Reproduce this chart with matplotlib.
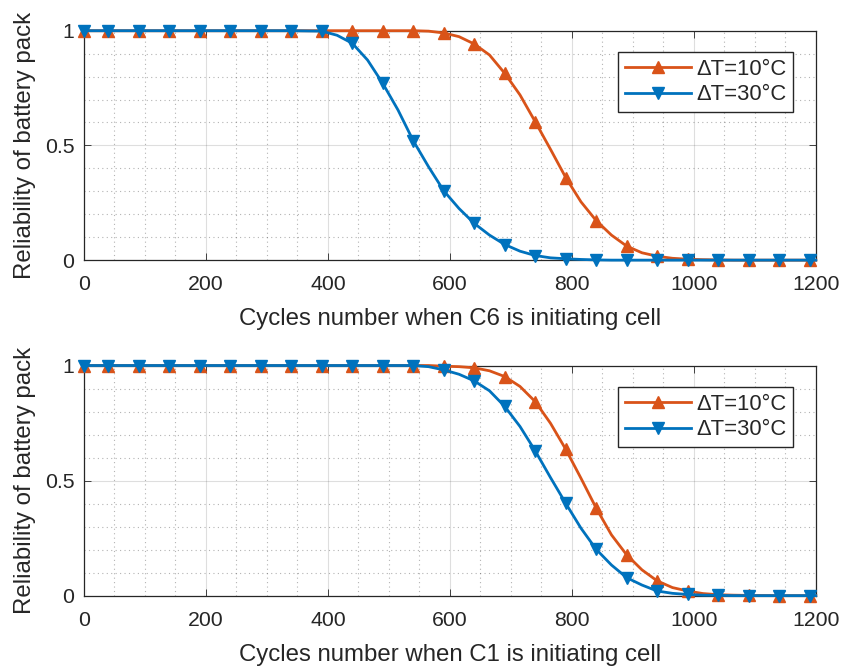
import numpy as np
import matplotlib
matplotlib.use("Agg")
import matplotlib.pyplot as plt
from matplotlib.ticker import MultipleLocator

plt.rcParams['font.family'] = ['Liberation Sans', 'DejaVu Sans']

cycles = [0, 40, 90, 140, 190, 240, 290, 340,
          390, 415, 440, 465, 490, 515, 540, 565, 590, 615, 640, 665,
          690, 715, 740, 765, 790, 815, 840, 865, 890, 915, 940, 965,
          990, 1015, 1040, 1065, 1090, 1140, 1190, 1200]

# cycles that carry a marker
marker_cycles = [0, 40, 90, 140, 190, 240, 290, 340, 390, 440, 490, 540,
                 590, 640, 690, 740, 790, 840, 890, 940, 990, 1040, 1090,
                 1140, 1190]

# C6 initiating cell (top)
c6_dt10 = [1, 1, 1, 1, 1, 1, 1, 1,
           1, 1, 1, 1, 1, 1, 1, 0.998, 0.99, 0.974, 0.942, 0.894,
           0.814, 0.72, 0.603, 0.483, 0.36, 0.254, 0.172, 0.109, 0.061, 0.032, 0.017, 0.008,
           0.004, 0.002, 0.001, 0, 0, 0, 0, 0]
c6_dt30 = [1, 1, 1, 1, 1, 1, 1, 1,
           0.998, 0.98, 0.945, 0.872, 0.77, 0.654, 0.52, 0.407, 0.302, 0.225, 0.16, 0.109,
           0.068, 0.039, 0.02, 0.01, 0.006, 0.003, 0.001, 0, 0, 0, 0, 0,
           0, 0, 0, 0, 0, 0, 0, 0]

# C1 initiating cell (bottom)
c1_dt10 = [1, 1, 1, 1, 1, 1, 1, 1,
           1, 1, 1, 1, 1, 1, 1, 1, 0.997, 0.995, 0.99, 0.977,
           0.952, 0.909, 0.843, 0.749, 0.636, 0.51, 0.38, 0.264, 0.177, 0.112, 0.064, 0.035,
           0.02, 0.009, 0.004, 0.002, 0.001, 0, 0, 0]
c1_dt30 = [1, 1, 1, 1, 1, 1, 1, 1,
           1, 1, 1, 1, 1, 1, 1, 0.995, 0.981, 0.962, 0.933, 0.89,
           0.822, 0.735, 0.629, 0.513, 0.401, 0.293, 0.201, 0.133, 0.078, 0.046, 0.02, 0.01,
           0.005, 0.002, 0.001, 0, 0, 0, 0, 0]

labels = ['\u0394T=10\u00b0C', '\u0394T=30\u00b0C']
xlabels = ['Cycles number when C6 is initiating cell',
           'Cycles number when C1 is initiating cell']
yticks = [0, 0.5, 1]
ytick_labels = ['0', '0.5', '1']

ORANGE = '#D95319'
BLUE = '#0072BD'
DARK = '#262626'
TICK_FS = 15.3
LABEL_FS = 17.3
LEG_FS = 15.8

mark_idx = [i for i, c in enumerate(cycles) if c in marker_cycles]


def style_axes(ax, xlabel):
    ax.set_xlim(0, 1200)
    ax.set_ylim(0, 1)
    ax.xaxis.set_major_locator(MultipleLocator(200))
    ax.xaxis.set_minor_locator(MultipleLocator(50))
    ax.set_yticks(yticks, ytick_labels)
    ax.yaxis.set_minor_locator(MultipleLocator(0.1))
    ax.grid(which='major', color=DARK, alpha=0.15, linewidth=0.8)
    ax.grid(which='minor', color=DARK, alpha=0.35, linestyle=(0, (1, 3)), linewidth=0.8)
    ax.set_axisbelow(True)
    ax.tick_params(which='major', direction='in', length=5, width=0.6, color=DARK,
                   top=True, right=True, labelsize=TICK_FS, labelcolor=DARK)
    ax.tick_params(axis='x', which='major', pad=11)
    ax.tick_params(axis='y', which='major', pad=7)
    ax.tick_params(which='minor', length=0)
    for sp in ax.spines.values():
        sp.set_color(DARK)
        sp.set_linewidth(0.9)
    ax.set_xlabel(xlabel, fontsize=LABEL_FS, color=DARK, labelpad=10)
    ax.set_ylabel('Reliability of battery pack', fontsize=LABEL_FS, color=DARK, labelpad=6)


fig = plt.figure(figsize=(8.45, 6.67), dpi=100)
ax1 = fig.add_axes([0.0994, 0.610, 0.866, 0.344])
ax2 = fig.add_axes([0.0994, 0.107, 0.866, 0.345])

for ax, y10, y30, xl in [(ax1, c6_dt10, c6_dt30, xlabels[0]),
                         (ax2, c1_dt10, c1_dt30, xlabels[1])]:
    ax.plot(cycles, y10, color=ORANGE, linewidth=2, marker='^', markersize=8,
            markevery=mark_idx, clip_on=False, label=labels[0], zorder=3)
    ax.plot(cycles, y30, color=BLUE, linewidth=2, marker='v', markersize=8,
            markevery=mark_idx, clip_on=False, label=labels[1], zorder=4)
    style_axes(ax, xl)
    leg = ax.legend(loc='upper right', bbox_to_anchor=(0.969, 0.905), fontsize=LEG_FS,
                    fancybox=False, framealpha=1, edgecolor=DARK, handlelength=3.0,
                    borderaxespad=0, borderpad=0.3, labelspacing=0.2, handletextpad=0.25)
    leg.get_frame().set_linewidth(1.0)
    for t in leg.get_texts():
        t.set_color(DARK)

fig.savefig('out.png', dpi=100)
